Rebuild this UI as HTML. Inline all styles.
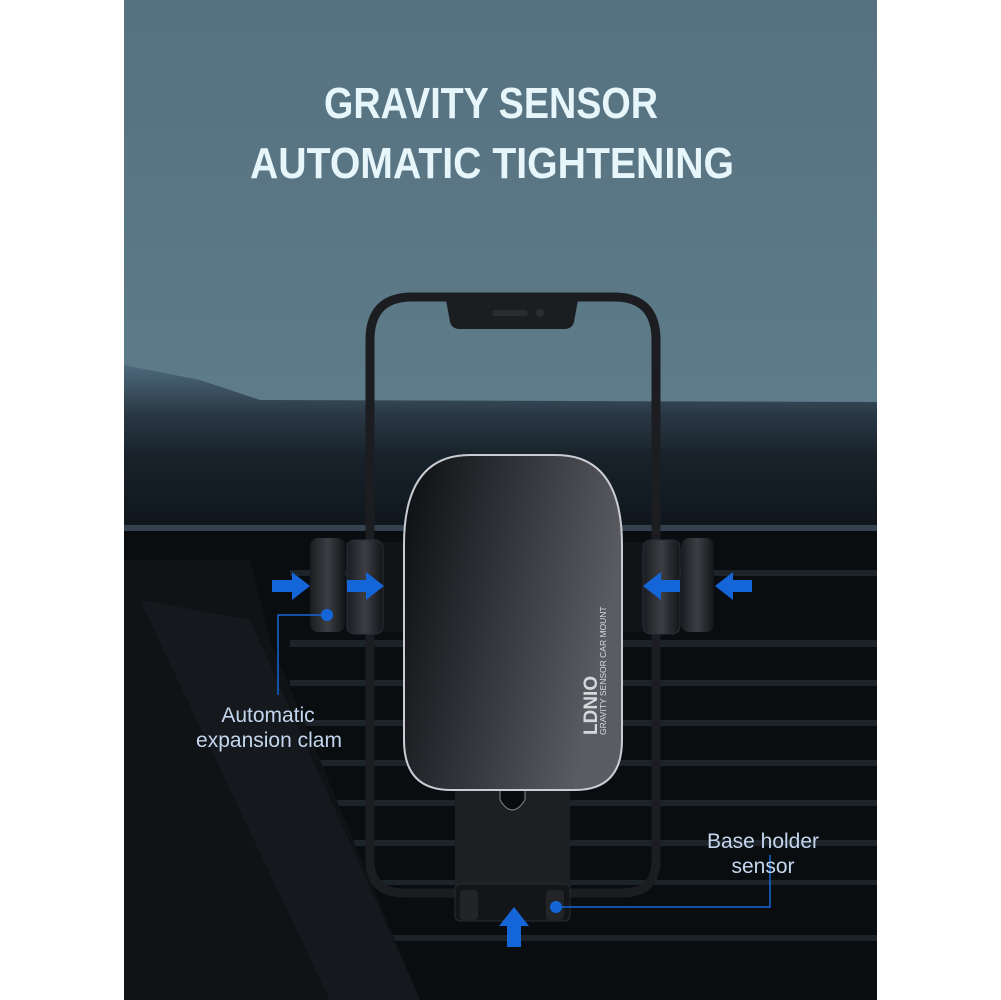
<!DOCTYPE html>
<html><head><meta charset="utf-8"><style>
html,body{margin:0;padding:0;background:#fff;}
svg{display:block}
</style></head><body>
<svg width="1001" height="1000" viewBox="0 0 1001 1000" xmlns="http://www.w3.org/2000/svg">
<defs>
<linearGradient id="sky" x1="0" y1="0" x2="0" y2="1">
<stop offset="0" stop-color="#56717f"/><stop offset="1" stop-color="#6a8b99"/>
</linearGradient>
<linearGradient id="dash" x1="0" y1="0" x2="0" y2="1">
<stop offset="0" stop-color="#4d6a7c"/><stop offset="0.3" stop-color="#2a3844"/><stop offset="0.55" stop-color="#18222b"/><stop offset="1" stop-color="#0f161c"/>
</linearGradient>
<linearGradient id="body" x1="0" y1="0" x2="1" y2="0.3">
<stop offset="0" stop-color="#0c0d10"/><stop offset="0.6" stop-color="#3a3c42"/><stop offset="1" stop-color="#5a5c62"/>
</linearGradient>
<linearGradient id="clamp" x1="0" y1="0" x2="1" y2="0">
<stop offset="0" stop-color="#1a1c20"/><stop offset="0.5" stop-color="#3c3e44"/><stop offset="1" stop-color="#141518"/>
</linearGradient>
</defs>
<rect x="124" y="0" width="753" height="1000" fill="url(#sky)"/>
<path d="M124 365 L200 380 L260 400 L877 402 L877 530 L124 530 Z" fill="url(#dash)"/>
<rect x="124" y="525" width="753" height="6" fill="#34424f"/>
<rect x="124" y="531" width="753" height="469" fill="#0a0d10"/>
<g fill="#1c2329">
<rect x="290" y="570" width="587" height="6"/>
<rect x="290" y="640" width="587" height="7"/>
<rect x="290" y="680" width="587" height="6"/>
<rect x="290" y="720" width="587" height="6"/>
<rect x="290" y="760" width="587" height="6"/>
<rect x="290" y="800" width="587" height="6"/>
<rect x="290" y="840" width="587" height="6"/>
<rect x="290" y="880" width="587" height="5"/>
<rect x="290" y="935" width="587" height="6"/>
</g>
<path d="M124 560 L250 560 L270 640 L420 1000 L124 1000 Z" fill="#0f1316"/>
<path d="M140 600 L250 620 L420 1000 L330 1000 Z" fill="#161b1f" opacity="0.8"/>
<g fill="#e6f6fa" font-family="'Liberation Sans',sans-serif" font-size="44" font-weight="bold" text-anchor="middle">
<text x="491" y="118" textLength="334" lengthAdjust="spacingAndGlyphs">GRAVITY SENSOR</text>
<text x="492" y="178" textLength="484" lengthAdjust="spacingAndGlyphs">AUTOMATIC TIGHTENING</text>
</g>
<path d="M370 340 Q370 297 412 297 L614 297 Q656 297 656 340 L656 860 Q656 893 622 893 L404 893 Q370 893 370 860 Z" fill="none" stroke="#1b1d21" stroke-width="9"/>
<path d="M446 300 L578 300 L574 322 Q572 329 564 329 L460 329 Q452 329 450 322 Z" fill="#1b1d21"/>
<rect x="492" y="310" width="36" height="6" rx="3" fill="#2a2c30"/>
<circle cx="540" cy="313" r="4" fill="#2a2c30"/>
<rect x="346" y="542" width="60" height="90" fill="#121316"/>
<rect x="310" y="538" width="35" height="94" rx="8" fill="url(#clamp)"/>
<rect x="347" y="540" width="36" height="94" rx="8" fill="url(#clamp)" stroke="#2a2e3a"/>
<rect x="618" y="542" width="62" height="90" fill="#121316"/>
<rect x="643" y="540" width="37" height="94" rx="8" fill="url(#clamp)" stroke="#2a2e3a"/>
<rect x="681" y="538" width="33" height="94" rx="8" fill="url(#clamp)"/>
<rect x="455" y="780" width="115" height="110" fill="#1d1f23"/>
<path d="M500 785 L525 785 L525 800 Q512 820 500 800 Z" fill="#0a0b0d" stroke="#888" stroke-width="1"/>
<rect x="455" y="884" width="115" height="37" rx="5" fill="#141518" stroke="#2a2c30"/>
<rect x="460" y="890" width="18" height="30" rx="4" fill="#222428"/>
<rect x="546" y="890" width="18" height="30" rx="4" fill="#222428"/>
<path d="M404 545 Q404 455 470 455 L556 455 Q622 455 622 545 L622 740 Q622 790 575 790 L451 790 Q404 790 404 740 Z" fill="url(#body)" stroke="#c9ccd2" stroke-width="2"/>
<g fill="#d6d8dc" font-family="'Liberation Sans',sans-serif">
<text transform="translate(597 735) rotate(-90)" font-size="19" font-weight="bold">LDNIO</text>
<text transform="translate(606 735) rotate(-90)" font-size="8.5">GRAVITY SENSOR CAR MOUNT</text>
</g>
<g fill="#1466d8">
<path d="M272 580 L292 580 L292 572 L310 586 L292 600 L292 592 L272 592 Z"/>
<path d="M347 580 L366 580 L366 572 L384 586 L366 600 L366 592 L347 592 Z"/>
<path d="M680 580 L661 580 L661 572 L643 586 L661 600 L661 592 L680 592 Z"/>
<path d="M752 580 L733 580 L733 572 L715 586 L733 600 L733 592 L752 592 Z"/>
<path d="M507 947 L521 947 L521 926 L529 926 L514 907 L499 926 L507 926 Z"/>
<circle cx="327" cy="615" r="6"/>
<circle cx="556" cy="907" r="6"/>
</g>
<g stroke="#1466d8" stroke-width="1.5" fill="none">
<path d="M327 615 L278 615 L278 695"/>
<path d="M556 907 L770 907 L770 855"/>
</g>
<g fill="#c4d6ee" font-family="'Liberation Sans',sans-serif" font-size="21" text-anchor="middle">
<text x="268" y="722">Automatic</text>
<text x="269" y="747">expansion clam</text>
<text x="763" y="848">Base holder</text>
<text x="763" y="873">sensor</text>
</g>
</svg>
</body></html>
